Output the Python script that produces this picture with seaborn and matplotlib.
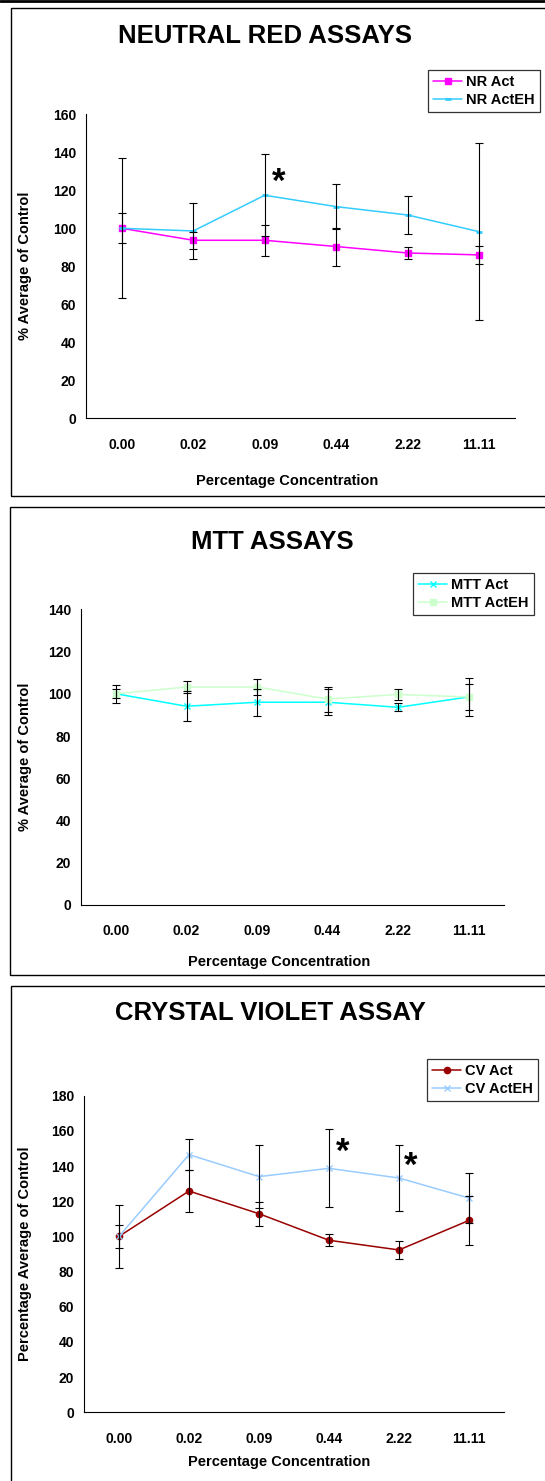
import numpy as np
import pandas as pd
import matplotlib
matplotlib.use("Agg")
import matplotlib.pyplot as plt
import seaborn as sns
from matplotlib.patches import Rectangle
from matplotlib.lines import Line2D

# ---------------- data ----------------
concentrations = ["0.00", "0.02", "0.09", "0.44", "2.22", "11.11"]

nr_act = [100, 93.7, 93.7, 90.4, 87.0, 86.0]
nr_act_err = [8.0, 4.5, 8.2, 10.0, 3.4, 4.9]
nr_acteh = [100, 98.6, 117.4, 111.4, 107.0, 98.2]
nr_acteh_err = [36.8, 14.9, 21.7, 12.0, 9.9, 46.5]

mtt_act = [100, 94.1, 96.0, 96.0, 93.6, 98.5]
mtt_act_err = [4.2, 7.0, 6.5, 6.2, 1.9, 6.3]
mtt_acteh = [100, 103.2, 103.2, 97.5, 99.7, 98.5]
mtt_acteh_err = [2.2, 2.7, 3.6, 5.9, 2.7, 9.1]

cv_act = [100, 125.8, 112.9, 97.8, 92.3, 109.1]
cv_act_err = [6.7, 11.7, 6.9, 3.4, 5.3, 14.0]
cv_acteh = [100, 146.5, 134.0, 138.7, 133.2, 121.8]
cv_acteh_err = [18.0, 8.6, 18.0, 22.2, 18.5, 14.4]

# ---------------- style ----------------
sns.set_style("white")
plt.rcParams['font.family'] = ['Liberation Sans', 'DejaVu Sans']
plt.rcParams['font.weight'] = 'bold'
plt.rcParams['axes.labelweight'] = 'bold'
for k in ['text.color', 'axes.labelcolor', 'xtick.color', 'ytick.color', 'axes.edgecolor']:
    plt.rcParams[k] = 'black'

W, H = 545, 1481
fig = plt.figure(figsize=(W / 100, H / 100), dpi=100)


def fx(px):
    return px / W


def fy(py):
    return 1 - py / H


def add_axes_px(left, top, right, bottom):
    return fig.add_axes([fx(left), fy(bottom), fx(right) - fx(left), fy(top) - fy(bottom)])


def box_px(left, top, right, bottom, lw=1.0):
    fig.add_artist(Rectangle((fx(left), fy(bottom)), fx(right) - fx(left), fy(top) - fy(bottom),
                             transform=fig.transFigure, fill=False, ec='black', lw=lw))


def draw_panel(ax, series, ymax, ystep):
    pos = np.arange(len(concentrations))
    for s in series:
        df = pd.DataFrame({"pos": pos, "value": s["values"]})
        sns.lineplot(data=df, x="pos", y="value", ax=ax, color=s["color"], lw=1.1,
                     marker=s["marker"], markersize=s["ms"], markeredgecolor=s["color"],
                     markerfacecolor=s["color"], markeredgewidth=s.get("mew", 1.0),
                     label=s["label"], zorder=2, legend=False)
        ax.errorbar(pos, s["values"], yerr=s["err"], fmt='none', ecolor='black',
                    elinewidth=0.8, capsize=2.6, capthick=0.8, zorder=3)
    ax.set_xlim(-0.5, len(concentrations) - 0.5)
    ax.set_ylim(0, ymax)
    ax.set_xticks(np.arange(-0.5, len(concentrations), 1.0))
    ax.set_xticklabels([])
    ax.set_xticks(pos, minor=True)
    ax.set_xticklabels(concentrations, minor=True, fontsize=10, fontweight='bold')
    ax.tick_params(axis='x', which='major', direction='out', length=4, width=0.8, color='black')
    ax.tick_params(axis='x', which='minor', length=0, pad=14)
    ax.set_yticks(np.arange(0, ymax + 1, ystep))
    ax.tick_params(axis='y', direction='out', length=4, width=0.8, color='black', pad=3, labelsize=10)
    for lab in ax.get_yticklabels():
        lab.set_fontweight('bold')
    ax.set_xlabel("")
    ax.set_ylabel("")
    for sp in ['top', 'right']:
        ax.spines[sp].set_visible(False)
    for sp in ['left', 'bottom']:
        ax.spines[sp].set_color('black')
        ax.spines[sp].set_linewidth(0.8)
    ax.patch.set_alpha(0)


def legend_px(ax, left, top):
    leg = ax.legend(loc='upper left', bbox_to_anchor=(fx(left), fy(top)),
                    bbox_transform=fig.transFigure, frameon=True, fancybox=False,
                    prop={'weight': 'bold', 'size': 10.5}, handlelength=2.0,
                    handletextpad=0.25, borderpad=0.35, labelspacing=0.25,
                    borderaxespad=0)
    leg.get_frame().set_edgecolor('black')
    leg.get_frame().set_linewidth(0.9)
    return leg


# top line
fig.add_artist(Line2D([0, 1], [fy(1), fy(1)], transform=fig.transFigure, color='black', lw=2))

# ---------------- panel 1 ----------------
box_px(11, 8, 560, 496)
ax1 = add_axes_px(86, 114.3, 515, 418.3)
draw_panel(ax1, [
    dict(values=nr_act, err=nr_act_err, color='#FF00FF', marker='s', ms=4.2, label='NR Act'),
    dict(values=nr_acteh, err=nr_acteh_err, color='#33CCFF', marker='_', ms=5, mew=2.0, label='NR ActEH'),
], 160, 20)
legend_px(ax1, 428, 70)
ax1.text(2.19, 124, '*', fontsize=25, fontweight='bold', ha='center', va='center')
fig.text(fx(265), fy(36), "NEUTRAL RED ASSAYS", ha='center', va='center', fontsize=18.5, fontweight='bold')
fig.text(fx(287), fy(481), "Percentage Concentration", ha='center', va='center', fontsize=10.5, fontweight='bold')
fig.text(fx(25), fy(266), "% Average of Control", ha='center', va='center', rotation=90, fontsize=10.5, fontweight='bold')

# ---------------- panel 2 ----------------
box_px(10, 507, 560, 975)
ax2 = add_axes_px(80.7, 609.3, 504, 905)
draw_panel(ax2, [
    dict(values=mtt_act, err=mtt_act_err, color='#00FFFF', marker='x', ms=5, label='MTT Act'),
    dict(values=mtt_acteh, err=mtt_acteh_err, color='#CCFFCC', marker='s', ms=4.2, label='MTT ActEH'),
], 140, 20)
legend_px(ax2, 413, 573)
fig.text(fx(272), fy(542), "MTT ASSAYS", ha='center', va='center', fontsize=18.5, fontweight='bold')
fig.text(fx(279), fy(962), "Percentage Concentration", ha='center', va='center', fontsize=10.5, fontweight='bold')
fig.text(fx(25), fy(757), "% Average of Control", ha='center', va='center', rotation=90, fontsize=10.5, fontweight='bold')

# ---------------- panel 3 ----------------
box_px(11, 986, 560, 1495)
ax3 = add_axes_px(84, 1095.7, 504, 1412.3)
draw_panel(ax3, [
    dict(values=cv_act, err=cv_act_err, color='#990000', marker='o', ms=4.5, label='CV Act'),
    dict(values=cv_acteh, err=cv_acteh_err, color='#99CCFF', marker='x', ms=5, label='CV ActEH'),
], 180, 20)
legend_px(ax3, 427, 1059)
ax3.text(3.2, 148, '*', fontsize=25, fontweight='bold', ha='center', va='center')
ax3.text(4.16, 140, '*', fontsize=25, fontweight='bold', ha='center', va='center')
fig.text(fx(270), fy(1013), "CRYSTAL VIOLET ASSAY", ha='center', va='center', fontsize=18.5, fontweight='bold')
fig.text(fx(279), fy(1462), "Percentage Concentration", ha='center', va='center', fontsize=10.5, fontweight='bold')
fig.text(fx(25), fy(1254), "Percentage Average of Control", ha='center', va='center', rotation=90, fontsize=10.5, fontweight='bold')

fig.savefig("out.png", dpi=100)
